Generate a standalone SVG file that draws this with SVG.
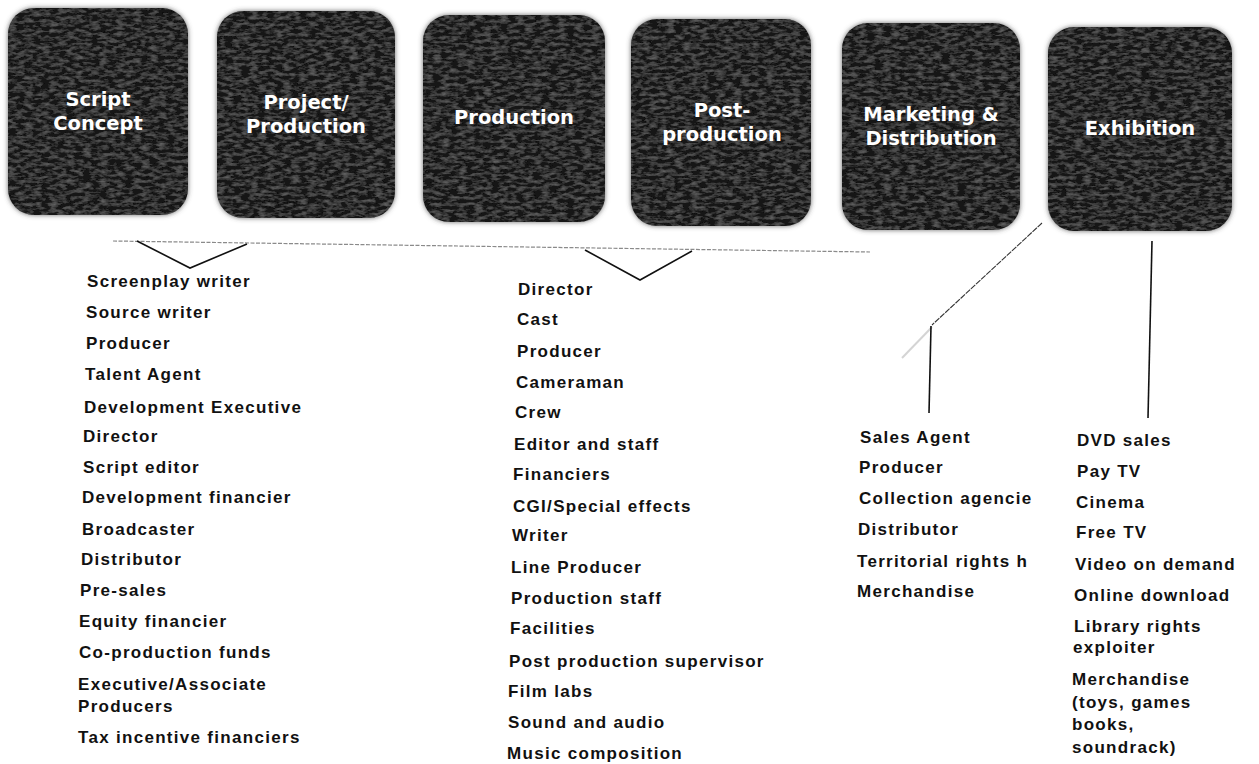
<svg xmlns="http://www.w3.org/2000/svg" width="1259" height="764" viewBox="0 0 1259 764">
<defs>
<filter id="grain" x="-8%" y="-8%" width="116%" height="116%">
<feGaussianBlur in="SourceAlpha" stdDeviation="2.5" result="blur"/>
<feFlood flood-color="#444" flood-opacity="0.8"/>
<feComposite in2="blur" operator="in" result="shadow"/>
<feTurbulence type="fractalNoise" baseFrequency="0.12 0.3" numOctaves="3" seed="7" result="noise"/>
<feColorMatrix in="noise" type="matrix" values="0 0 0 0 0.38  0 0 0 0 0.38  0 0 0 0 0.38  0 0 0 0.6 -0.24" result="speck"/>
<feComposite in="speck" in2="SourceAlpha" operator="in" result="speckIn"/>
<feMerge><feMergeNode in="shadow"/><feMergeNode in="SourceGraphic"/><feMergeNode in="speckIn"/></feMerge>
</filter>
<clipPath id="clipMkt"><rect x="840" y="420" width="193" height="200"/></clipPath>
</defs>
<style>
.box{fill:#121212;filter:url(#grain)}
.bt{fill:#fff;font-family:"DejaVu Sans",Verdana,sans-serif;font-weight:bold;font-size:19.5px;text-anchor:middle}
.lt{fill:#111;font-family:"Liberation Sans",Arial,sans-serif;font-weight:bold;font-size:17px;letter-spacing:1.3px}
.ln{fill:none;stroke:#111;stroke-width:1.6}
.faint{fill:none;stroke:#8a8a8a;stroke-width:1.2;stroke-dasharray:4 1.5}
</style>
<rect width="1259" height="764" fill="#fff"/>

<g id="node-script">
<rect class="box" x="8" y="8" width="180" height="207" rx="26"/>
<text class="bt" x="98" y="106">Script</text>
<text class="bt" x="98" y="130">Concept</text>
</g>
<g id="node-project">
<rect class="box" x="217" y="11" width="178" height="207" rx="26"/>
<text class="bt" x="306" y="109">Project/</text>
<text class="bt" x="306" y="133">Production</text>
</g>
<g id="node-production">
<rect class="box" x="423" y="15" width="182" height="207" rx="26"/>
<text class="bt" x="514" y="124">Production</text>
</g>
<g id="node-post">
<rect class="box" x="631" y="19" width="180" height="207" rx="26"/>
<text class="bt" x="722" y="117">Post-</text>
<text class="bt" x="722" y="141">production</text>
</g>
<g id="node-marketing">
<rect class="box" x="842" y="23" width="178" height="207" rx="26"/>
<text class="bt" x="931" y="121">Marketing &amp;</text>
<text class="bt" x="931" y="145">Distribution</text>
</g>
<g id="node-exhibition">
<rect class="box" x="1048" y="27" width="184" height="204" rx="26"/>
<text class="bt" x="1140" y="135">Exhibition</text>
</g>

<g id="connectors">
<path class="faint" d="M113 241 L870 252"/>
<path class="ln" d="M137 241 L190 268 L247 244"/>
<path class="ln" d="M585 250 L640 280 L692 251"/>
<path fill="none" stroke="#333" stroke-width="1.1" stroke-dasharray="6 1" d="M1042 223 L932 325"/>
<path fill="none" stroke="#d4d4d4" stroke-width="2" d="M932 327 L902 358"/>
<path class="ln" d="M931 326 L929 413"/>
<path class="ln" d="M1152 241 L1148 418"/>
</g>

<g id="list-script">
<text class="lt" x="87" y="287">Screenplay writer</text>
<text class="lt" x="86" y="318">Source writer</text>
<text class="lt" x="86" y="349">Producer</text>
<text class="lt" x="85" y="380">Talent Agent</text>
<text class="lt" x="84" y="413">Development Executive</text>
<text class="lt" x="83" y="442">Director</text>
<text class="lt" x="83" y="473">Script editor</text>
<text class="lt" x="82" y="503">Development financier</text>
<text class="lt" x="82" y="535">Broadcaster</text>
<text class="lt" x="81" y="565">Distributor</text>
<text class="lt" x="80" y="596">Pre-sales</text>
<text class="lt" x="79" y="627">Equity financier</text>
<text class="lt" x="79" y="658">Co-production funds</text>
<text class="lt" x="78" y="690">Executive/Associate</text>
<text class="lt" x="78" y="712">Producers</text>
<text class="lt" x="78" y="743">Tax incentive financiers</text>
</g>

<g id="list-production">
<text class="lt" x="518" y="295">Director</text>
<text class="lt" x="517" y="325">Cast</text>
<text class="lt" x="517" y="357">Producer</text>
<text class="lt" x="516" y="388">Cameraman</text>
<text class="lt" x="515" y="418">Crew</text>
<text class="lt" x="514" y="450">Editor and staff</text>
<text class="lt" x="513" y="480">Financiers</text>
<text class="lt" x="513" y="512">CGI/Special effects</text>
<text class="lt" x="512" y="541">Writer</text>
<text class="lt" x="511" y="573">Line Producer</text>
<text class="lt" x="511" y="604">Production staff</text>
<text class="lt" x="510" y="634">Facilities</text>
<text class="lt" x="509" y="667">Post production supervisor</text>
<text class="lt" x="508" y="697">Film labs</text>
<text class="lt" x="508" y="728">Sound and audio</text>
<text class="lt" x="507" y="759">Music composition</text>
</g>

<g id="list-marketing" clip-path="url(#clipMkt)">
<text class="lt" x="860" y="443">Sales Agent</text>
<text class="lt" x="859" y="473">Producer</text>
<text class="lt" x="859" y="504">Collection agencie</text>
<text class="lt" x="858" y="535">Distributor</text>
<text class="lt" x="857" y="567">Territorial rights h</text>
<text class="lt" x="857" y="597">Merchandise</text>
</g>

<g id="list-exhibition">
<text class="lt" x="1077" y="446">DVD sales</text>
<text class="lt" x="1077" y="477">Pay TV</text>
<text class="lt" x="1076" y="508">Cinema</text>
<text class="lt" x="1076" y="538">Free TV</text>
<text class="lt" x="1075" y="570">Video on demand</text>
<text class="lt" x="1074" y="601">Online download</text>
<text class="lt" x="1074" y="632">Library rights</text>
<text class="lt" x="1073" y="653">exploiter</text>
<text class="lt" x="1072" y="685">Merchandise</text>
<text class="lt" x="1072" y="708">(toys, games</text>
<text class="lt" x="1072" y="730">books,</text>
<text class="lt" x="1072" y="753">soundrack)</text>
</g>
</svg>
